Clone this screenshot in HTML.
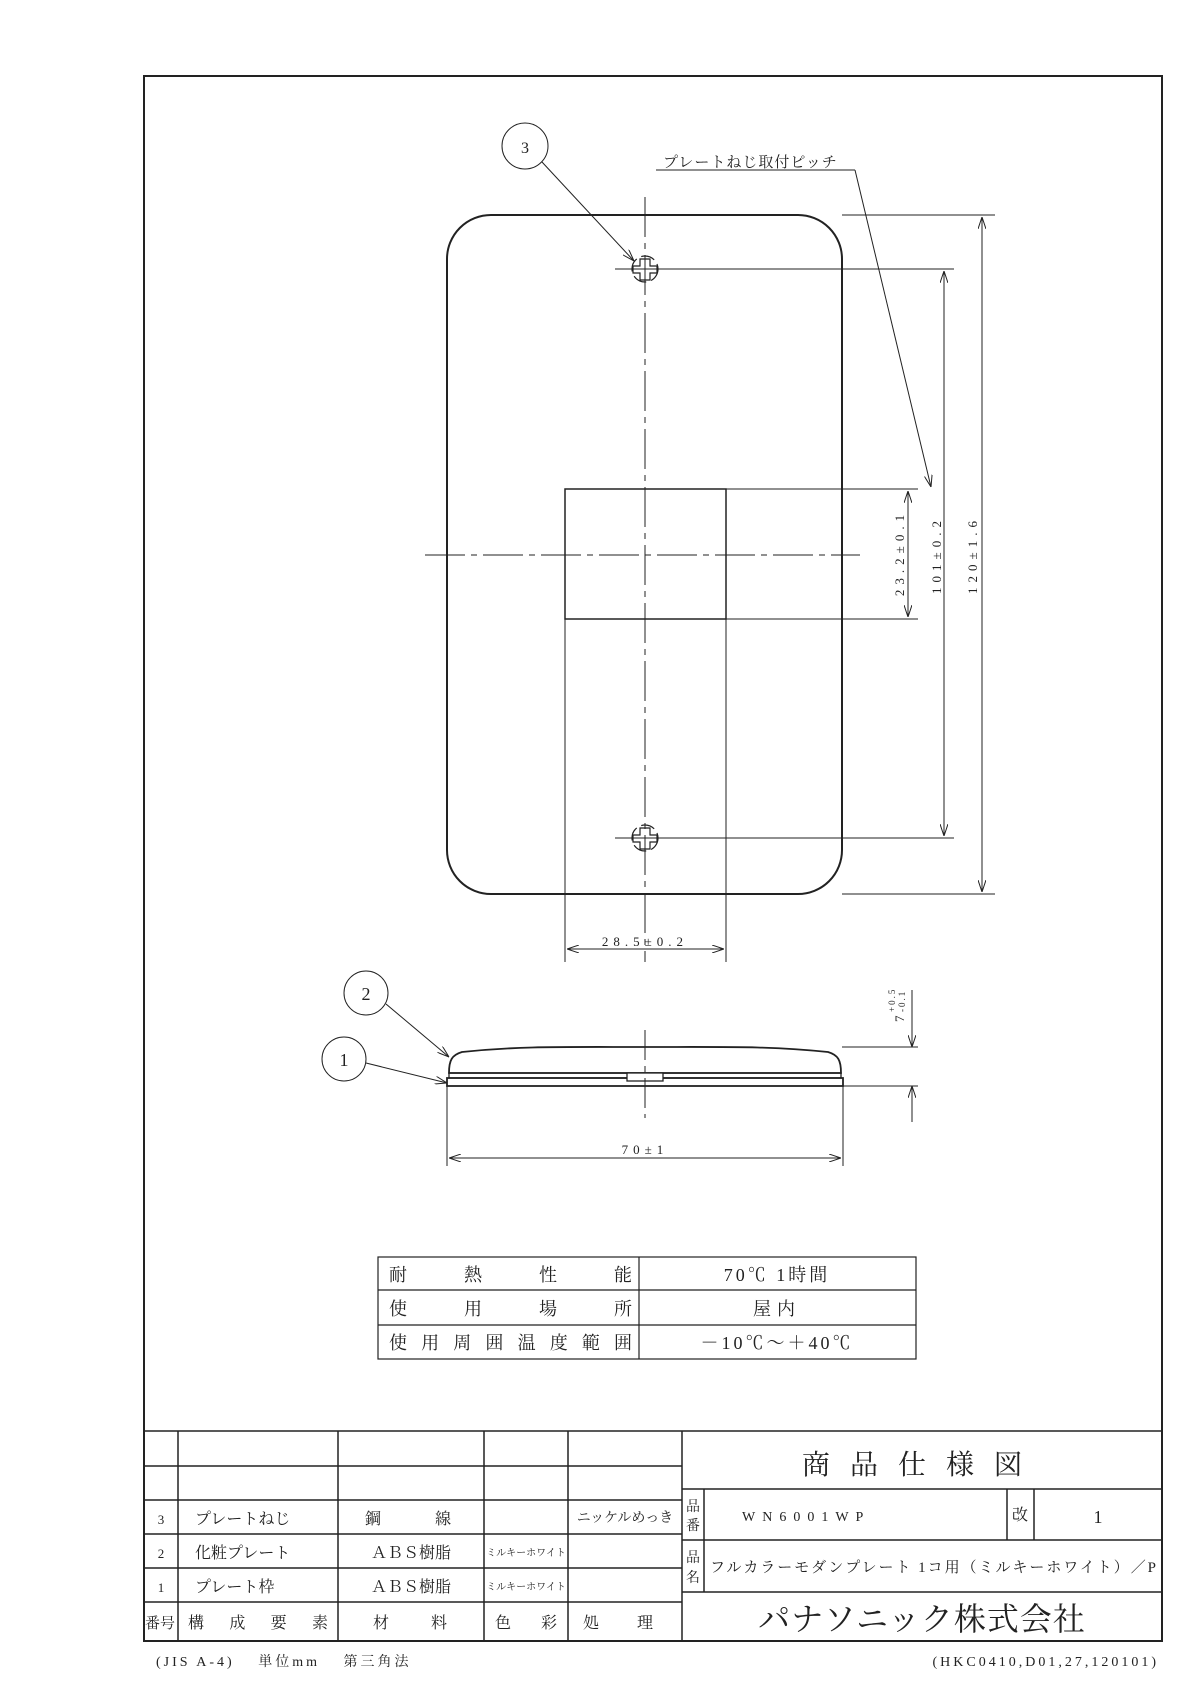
<!DOCTYPE html>
<html><head><meta charset="utf-8"><style>
html,body{margin:0;padding:0;background:#fff}
svg{display:block}
text{font-family:"Liberation Serif","Noto Serif CJK JP","Noto Serif CJK SC",serif;fill:#222}
</style></head><body>
<svg width="1190" height="1684" viewBox="0 0 1190 1684" xmlns="http://www.w3.org/2000/svg">
<defs>
<marker id="a" viewBox="0 0 12 8" refX="12" refY="4" markerWidth="12" markerHeight="8" markerUnits="userSpaceOnUse" orient="auto-start-reverse">
<path d="M0,0 L12,4 L0,8" fill="none" stroke="#222" stroke-width="1"/>
</marker>
</defs>
<g fill="none" stroke="#222">
<rect x="144" y="76" width="1018" height="1565" stroke-width="2"/>

<rect x="447" y="215" width="395" height="679" rx="44" stroke-width="2"/>
<rect x="565" y="489" width="161" height="130" stroke-width="1.5"/>
<line x1="645" y1="197" x2="645" y2="962" stroke-dasharray="40,6,6,6" stroke-width="1"/>
<line x1="425" y1="555" x2="860" y2="555" stroke-dasharray="40,6,6,6" stroke-width="1"/>
<g stroke-width="1.2">
<circle cx="645" cy="269" r="13" stroke-dasharray="14,5"/>
<path d="M640,259 h10 v7 h7 v7 h-7 v7 h-10 v-7 h-7 v-7 h7 z"/>
<circle cx="645" cy="838" r="13" stroke-dasharray="14,5"/>
<path d="M640,828 h10 v7 h7 v7 h-7 v7 h-10 v-7 h-7 v-7 h7 z"/>
</g>
<line x1="615" y1="269" x2="954" y2="269" stroke-width="1"/>
<line x1="615" y1="838" x2="954" y2="838" stroke-width="1"/>
<g stroke-width="1">
<line x1="726" y1="489" x2="918" y2="489"/>
<line x1="726" y1="619" x2="918" y2="619"/>
<line x1="842" y1="215" x2="995" y2="215"/>
<line x1="842" y1="894" x2="995" y2="894"/>
<line x1="908" y1="491" x2="908" y2="617" marker-start="url(#a)" marker-end="url(#a)"/>
<line x1="944" y1="271" x2="944" y2="836" marker-start="url(#a)" marker-end="url(#a)"/>
<line x1="982" y1="217" x2="982" y2="892" marker-start="url(#a)" marker-end="url(#a)"/>
<line x1="565" y1="619" x2="565" y2="962"/>
<line x1="726" y1="619" x2="726" y2="962"/>
<line x1="567" y1="949" x2="724" y2="949" marker-start="url(#a)" marker-end="url(#a)"/>
<line x1="656" y1="170" x2="855" y2="170"/>
<line x1="855" y1="170" x2="931" y2="487" marker-end="url(#a)"/>
<circle cx="525" cy="146" r="23"/>
<line x1="542" y1="162" x2="634" y2="261" marker-end="url(#a)"/>
</g>

<g stroke-width="1.8">
<path d="M449,1073 C449,1060 452,1055 462,1052 C520,1046 560,1047 645,1047 C730,1047 770,1046 828,1052 C838,1055 841,1060 841,1073 Z"/>
<rect x="449" y="1073" width="392" height="5" stroke-width="1.3"/>
<rect x="447" y="1078" width="396" height="8"/>
<rect x="627" y="1073" width="36" height="8" fill="#fff" stroke-width="1.3"/>
</g>
<line x1="645" y1="1030" x2="645" y2="1118" stroke-dasharray="30,6,6,6" stroke-width="1"/>
<g stroke-width="1">
<line x1="842" y1="1047" x2="918" y2="1047"/>
<line x1="843" y1="1086" x2="918" y2="1086"/>
<line x1="912" y1="990" x2="912" y2="1047" marker-end="url(#a)"/>
<line x1="912" y1="1122" x2="912" y2="1086" marker-end="url(#a)"/>
<line x1="447" y1="1086" x2="447" y2="1166"/>
<line x1="843" y1="1086" x2="843" y2="1166"/>
<line x1="449" y1="1158" x2="841" y2="1158" marker-start="url(#a)" marker-end="url(#a)"/>
<circle cx="366" cy="993" r="22"/>
<line x1="386" y1="1004" x2="449" y2="1057" marker-end="url(#a)"/>
<circle cx="344" cy="1059" r="22"/>
<line x1="366" y1="1063" x2="447" y2="1083" marker-end="url(#a)"/>
</g>

<g stroke-width="1.2">
<rect x="378" y="1257" width="538" height="102"/>
<line x1="639" y1="1257" x2="639" y2="1359"/>
<line x1="378" y1="1290" x2="916" y2="1290"/>
<line x1="378" y1="1325" x2="916" y2="1325"/>
</g>

<g stroke-width="1.5">
<line x1="144" y1="1431" x2="1162" y2="1431"/>
<line x1="144" y1="1466" x2="682" y2="1466"/>
<line x1="144" y1="1500" x2="682" y2="1500"/>
<line x1="144" y1="1534" x2="682" y2="1534"/>
<line x1="144" y1="1568" x2="682" y2="1568"/>
<line x1="144" y1="1602" x2="682" y2="1602"/>
<line x1="178" y1="1431" x2="178" y2="1641"/>
<line x1="338" y1="1431" x2="338" y2="1641"/>
<line x1="484" y1="1431" x2="484" y2="1641"/>
<line x1="568" y1="1431" x2="568" y2="1641"/>
<line x1="682" y1="1431" x2="682" y2="1641"/>
<line x1="682" y1="1489" x2="1162" y2="1489"/>
<line x1="682" y1="1540" x2="1162" y2="1540"/>
<line x1="682" y1="1592" x2="1162" y2="1592"/>
<line x1="704" y1="1489" x2="704" y2="1592"/>
<line x1="1007" y1="1489" x2="1007" y2="1540"/>
<line x1="1034" y1="1489" x2="1034" y2="1540"/>
</g>
</g>

<text x="525" y="153" font-size="16" text-anchor="middle">3</text>
<text x="366" y="1000" font-size="18" text-anchor="middle">2</text>
<text x="344" y="1066" font-size="18" text-anchor="middle">1</text>
<text x="663" y="167" font-size="15" letter-spacing="1">プレートねじ取付ピッチ</text>
<text x="645" y="946" font-size="13" text-anchor="middle" letter-spacing="5">28.5±0.2</text>
<text x="645" y="1154" font-size="13" text-anchor="middle" letter-spacing="5">70±1</text>
<text transform="translate(904,553) rotate(-90)" font-size="13" text-anchor="middle" letter-spacing="5">23.2±0.1</text>
<text transform="translate(941,555) rotate(-90)" font-size="13" text-anchor="middle" letter-spacing="5">101±0.2</text>
<text transform="translate(977,555) rotate(-90)" font-size="13" text-anchor="middle" letter-spacing="5">120±1.6</text>
<text transform="translate(904,1022) rotate(-90)" font-size="13">7</text>
<text transform="translate(895,1012) rotate(-90)" font-size="9" letter-spacing="2">+0.5</text>
<text transform="translate(905,1012) rotate(-90)" font-size="9" letter-spacing="2">-0.1</text>

<g font-size="18">
<text x="389" y="1281" textLength="243" lengthAdjust="spacing">耐　熱　性　能</text>
<text x="389" y="1315" textLength="243" lengthAdjust="spacing">使　用　場　所</text>
<text x="389" y="1349" textLength="243" lengthAdjust="spacing">使用周囲温度範囲</text>
<text x="777" y="1281" text-anchor="middle" letter-spacing="3">70℃ 1時間</text>
<text x="777" y="1315" text-anchor="middle" letter-spacing="6">屋内</text>
<text x="777" y="1349" text-anchor="middle" letter-spacing="3">－10℃～＋40℃</text>
</g>

<g font-size="16">
<text x="161" y="1524" text-anchor="middle" font-size="13">3</text>
<text x="161" y="1558" text-anchor="middle" font-size="13">2</text>
<text x="161" y="1592" text-anchor="middle" font-size="13">1</text>
<text x="195" y="1524">プレートねじ</text>
<text x="195" y="1558">化粧プレート</text>
<text x="195" y="1592">プレート枠</text>
<text x="365" y="1524" textLength="86" lengthAdjust="spacing">鋼　線</text>
<text x="411" y="1558" text-anchor="middle">ＡＢＳ樹脂</text>
<text x="411" y="1592" text-anchor="middle">ＡＢＳ樹脂</text>
<text x="526" y="1556" text-anchor="middle" font-size="10">ミルキーホワイト</text>
<text x="526" y="1590" text-anchor="middle" font-size="10">ミルキーホワイト</text>
<text x="625" y="1522" text-anchor="middle" font-size="14">ニッケルめっき</text>
<text x="145" y="1628" font-size="15">番号</text>
<text x="188" y="1628" textLength="140" lengthAdjust="spacing">構　成　要　素</text>
<text x="373" y="1628" textLength="74" lengthAdjust="spacing">材　料</text>
<text x="495" y="1628" textLength="62" lengthAdjust="spacing">色　彩</text>
<text x="583" y="1628" textLength="70" lengthAdjust="spacing">処　理</text>
</g>
<text x="922" y="1474" font-size="28" text-anchor="middle" letter-spacing="20">商品仕様図</text>
<text x="693" y="1511" font-size="14" text-anchor="middle">品</text>
<text x="693" y="1530" font-size="14" text-anchor="middle">番</text>
<text x="693" y="1562" font-size="14" text-anchor="middle">品</text>
<text x="693" y="1582" font-size="14" text-anchor="middle">名</text>
<text x="742" y="1521" font-size="14" letter-spacing="7">WN6001WP</text>
<text x="1020" y="1520" font-size="16" text-anchor="middle">改</text>
<text x="1098" y="1523" font-size="18" text-anchor="middle">1</text>
<text x="710" y="1572" font-size="15" textLength="446" lengthAdjust="spacing">フルカラーモダンプレート 1コ用（ミルキーホワイト）／P</text>
<text x="922" y="1630" font-size="32" text-anchor="middle" letter-spacing="1">パナソニック株式会社</text>
<text x="156" y="1666" font-size="14" letter-spacing="3">(JIS A-4)　 単位mm　 第三角法</text>
<text x="1159" y="1666" font-size="14" text-anchor="end" letter-spacing="3">(HKC0410,D01,27,120101)</text>
</svg>
</body></html>
